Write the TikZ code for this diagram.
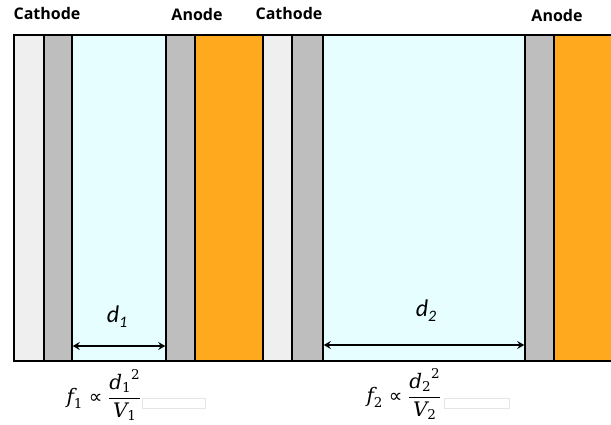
\documentclass[tikz,border=0pt]{standalone}
\usepackage{fontspec}
\setmainfont{Open Sans}
\newfontfamily\carl{Carlito}
\newfontfamily\fml{DejaVu Serif}
\newfontfamily\dvsans{DejaVu Sans}
\newcommand\mvar[1]{\mbox{\fml\itshape\fontsize{20}{24}\selectfont #1}}
\newcommand\msub[1]{\mbox{\fml\fontsize{13.5}{14}\selectfont #1}}
\newcommand\mprop{\mathrel{\mbox{\dvsans\fontsize{19}{22}\selectfont ∝}}}
\usetikzlibrary{arrows.meta}
\definecolor{lgray}{HTML}{EFEFEF}
\definecolor{mgray}{HTML}{BEBEBE}
\definecolor{lcyan}{HTML}{E6FEFF}
\definecolor{orng}{HTML}{FFAA1E}
\begin{document}
\begin{tikzpicture}[x=1pt,y=1pt,
  strip/.style={draw=black, line width=1.6pt, minimum height=326pt, inner sep=0pt, outer sep=0pt, anchor=south west},
  lbl/.style={font=\fontsize{16}{19}\selectfont\bfseries, inner sep=0pt},
  dlbl/.style={font=\carl\itshape\fontsize{24}{26}\selectfont, inner sep=0pt},
  dimarrow/.style={{Stealth[length=7pt,width=8pt,inset=2.5pt]}-{Stealth[length=7pt,width=8pt,inset=2.5pt]}, line width=1.4pt, shorten <=0.8pt, shorten >=0.8pt},
  formula/.style={inner sep=0pt, font=\fontsize{20}{24}\selectfont},
  patch/.style={draw=black!10, fill=white, line width=0.4pt, inner sep=0pt, minimum height=10pt, anchor=south west}
]
\useasboundingbox (0,0) rectangle (611,424);
% strips
\node[strip, fill=lgray, minimum width=30pt] (s1) at (14,63) {};
\node[strip, fill=mgray, minimum width=28pt] (s2) at (s1.south east) {};
\node[strip, fill=lcyan, minimum width=94pt] (s3) at (s2.south east) {};
\node[strip, fill=mgray, minimum width=29pt] (s4) at (s3.south east) {};
\node[strip, fill=orng, minimum width=68pt] (s5) at (s4.south east) {};
\node[strip, fill=lgray, minimum width=29pt] (s6) at (s5.south east) {};
\node[strip, fill=mgray, minimum width=31pt] (s7) at (s6.south east) {};
\node[strip, fill=lcyan, minimum width=202pt] (s8) at (s7.south east) {};
\node[strip, fill=mgray, minimum width=29pt] (s9) at (s8.south east) {};
\node[strip, fill=orng, minimum width=59pt] (s10) at (s9.south east) {};
% labels
\node[lbl] (c1) at (47,410) {Cathode};
\node[lbl] (a1) at (197,409) {Anode};
\node[lbl] (c2) at (289,410) {Cathode};
\node[lbl] (a2) at (557,408) {Anode};
% dimension arrows
\coordinate (ya) at (0,78);
\coordinate (yb) at (0,79);
\draw[dimarrow] (s3.west |- ya) -- (s3.east |- ya);
\draw[dimarrow] (s8.west |- yb) -- (s8.east |- yb);
\node[dlbl] (d1) at (117,107) {d\raisebox{-5pt}{\fontsize{16}{16}\selectfont 1}};
\node[dlbl] (d2) at (426,113) {d\raisebox{-5pt}{\fontsize{16}{16}\selectfont 2}};
% patches
\node[patch, minimum width=63pt] (p1) at (142,16) {};
\node[patch, minimum width=65pt] (p2) at (444,16) {};
% formulas
\node[formula] (f1) at (104,29) {$\displaystyle \mvar{f}_{\msub{1}} \mprop \frac{{\mvar{d}_{\msub{1}}}^{\msub{2}}}{\mvar{V}_{\msub{1}}}$};
\node[formula] (f2) at (404,30) {$\displaystyle \mvar{f}_{\msub{2}} \mprop \frac{{\mvar{d}_{\msub{2}}}^{\msub{2}}}{\mvar{V}_{\msub{2}}}$};
\end{tikzpicture}
\end{document}
